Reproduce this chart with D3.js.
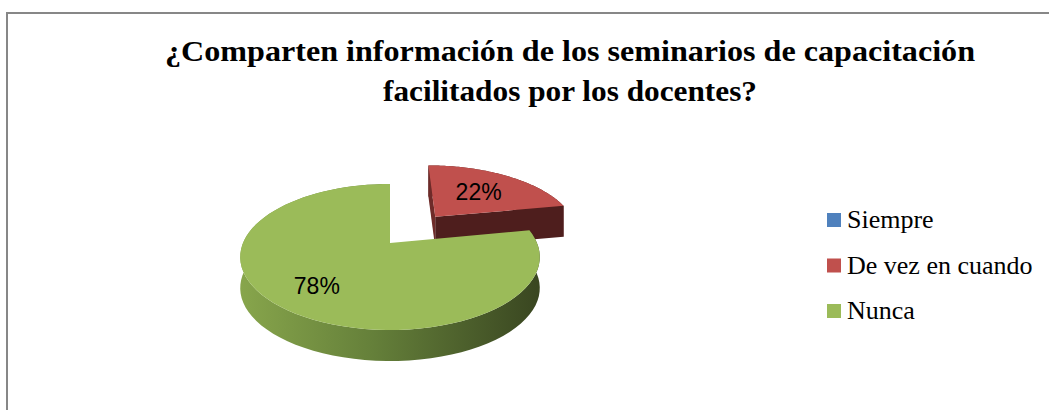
<!DOCTYPE html>
<html>
<head>
<meta charset="utf-8">
<script src="https://cdn.jsdelivr.net/npm/d3@7"></script>
<style>
  html, body { margin: 0; padding: 0; background: #fff; }
  svg { display: block; }
</style>
</head>
<body>
<div id="chart"></div>
<script>
// data
var categories = ["Siempre", "De vez en cuando", "Nunca"];
var values = [0, 22, 78];
var titleLines = ["¿Comparten información de los seminarios de capacitación", "facilitados por los docentes?"];

var colors = ["#4F81BD", "#C0504D", "#9BBB59"];
var explode = [0, 0.52, 0];
var labelFrac = [0.68, 0.58, 0.7];

var width = 1049, height = 410;

var svg = d3.select("#chart")
    .append("svg")
    .attr("width", width)
    .attr("height", height);

// chart frame (only top and left edge are visible)
svg.append("path")
    .attr("d", "M7,410V13H1049")
    .style("fill", "none")
    .style("stroke", "#878787")
    .style("stroke-width", 2);

// title
var titleWidths = [810, 374];
svg.append("g")
    .selectAll("text")
    .data(titleLines)
    .enter()
    .append("text")
    .attr("x", 570)
    .attr("y", function (d, i) { return 61 + i * 40; })
    .attr("text-anchor", "middle")
    .attr("textLength", function (d, i) { return titleWidths[i]; })
    .attr("lengthAdjust", "spacingAndGlyphs")
    .style("font-family", "'Liberation Serif', 'Times New Roman', serif")
    .style("font-weight", "bold")
    .style("font-size", "30px")
    .style("fill", "#000")
    .text(function (d) { return d; });

// 3D pie projection: disc coords (u right, v far) -> screen, with a bit of perspective
var P = { cx: 390, cy: 243, rx: 147, ry: 70.3, k: 0.192, h: 31 };
function proj(u, v, z) {
    var s = 1 / (1 + P.k * v);
    return [P.cx + P.rx * u * s, P.cy - P.ry * v * s + z];
}

var total = d3.sum(values);
var arcs = d3.pie().sort(null).value(function (d) { return d; })(values);
var line = d3.line().curve(d3.curveLinear);

function arcPoints(a0, a1, ou, ov, z) {
    var pts = [], n = 80;
    for (var i = 0; i <= n; i++) {
        var a = a0 + (a1 - a0) * i / n;
        pts.push(proj(ou + Math.sin(a), ov + Math.cos(a), z));
    }
    return pts;
}

// side gradient for the green slice
var defs = svg.append("defs");
var gGreen = defs.append("linearGradient")
    .attr("id", "sideGreen")
    .attr("gradientUnits", "userSpaceOnUse")
    .attr("x1", 238).attr("x2", 536).attr("y1", 0).attr("y2", 0);
gGreen.append("stop").attr("offset", 0).attr("stop-color", "#88a64c");
gGreen.append("stop").attr("offset", 0.45).attr("stop-color", "#65803a");
gGreen.append("stop").attr("offset", 1).attr("stop-color", "#3a4721");

var sideColor = ["#2c4a6e", "#5a2221", "url(#sideGreen)"];
var faceColor = ["#2c4a6e", "#4e1e1d", "#4a5e2a"];

var slices = arcs.map(function (d, i) {
    var mid = (d.startAngle + d.endAngle) / 2;
    return {
        i: i,
        a0: d.startAngle,
        a1: d.endAngle,
        mid: mid,
        value: d.value,
        ou: explode[i] * Math.sin(mid),
        ov: explode[i] * Math.cos(mid)
    };
}).filter(function (d) { return d.value > 0; });

// draw farther slices first
slices.sort(function (a, b) { return b.ov - a.ov; });

var pie = svg.append("g").attr("class", "pie3d");

slices.forEach(function (d) {
    var g = pie.append("g").attr("class", "slice");
    var topArc = arcPoints(d.a0, d.a1, d.ou, d.ov, 0);
    var botArc = arcPoints(d.a0, d.a1, d.ou, d.ov, P.h).reverse();

    // outer wall
    g.append("path")
        .attr("d", line(topArc.concat(botArc)) + "Z")
        .style("fill", sideColor[d.i]);

    // cut faces (only the ones facing the viewer matter, others get covered)
    if (explode[d.i] > 0) {
        [d.a0, d.a1].forEach(function (a, j) {
            var c0 = proj(d.ou, d.ov, 0), c1 = proj(d.ou, d.ov, P.h);
            var e0 = proj(d.ou + Math.sin(a), d.ov + Math.cos(a), 0);
            var e1 = proj(d.ou + Math.sin(a), d.ov + Math.cos(a), P.h);
            g.append("path")
                .attr("d", line([c0, e0, e1, c1]) + "Z")
                .style("fill", j == 0 ? "#6e2b29" : faceColor[d.i]);
        });
    }

    // top surface
    g.append("path")
        .attr("d", line([proj(d.ou, d.ov, 0)].concat(topArc)) + "Z")
        .style("fill", colors[d.i]);
});

// percentage labels
function labelPos(d) {
    var f = labelFrac[d.i];
    return proj(d.ou + f * Math.sin(d.mid), d.ov + f * Math.cos(d.mid), 0);
}
pie.selectAll("text.pct")
    .data(slices)
    .enter()
    .append("text")
    .attr("class", "pct")
    .attr("x", function (d) { return labelPos(d)[0]; })
    .attr("y", function (d) { return labelPos(d)[1]; })
    .attr("dy", "0.36em")
    .attr("text-anchor", "middle")
    .style("font-family", "'Liberation Sans', Arial, sans-serif")
    .style("font-size", "23px")
    .style("fill", "#000")
    .text(function (d) { return Math.round(d.value / total * 100) + "%"; });

// legend
var legend = svg.selectAll(".legend")
    .data(categories)
    .enter()
    .append("g")
    .attr("class", "legend")
    .attr("transform", function (d, i) { return "translate(827," + (213 + i * 45.5) + ")"; });

legend.append("rect")
    .attr("width", 14)
    .attr("height", 14)
    .style("fill", function (d, i) { return colors[i]; });

legend.append("text")
    .attr("x", 20)
    .attr("y", 15)
    .style("font-family", "'Liberation Serif', 'Times New Roman', serif")
    .style("font-size", "26px")
    .style("fill", "#000")
    .text(function (d) { return d; });
</script>
</body>
</html>
